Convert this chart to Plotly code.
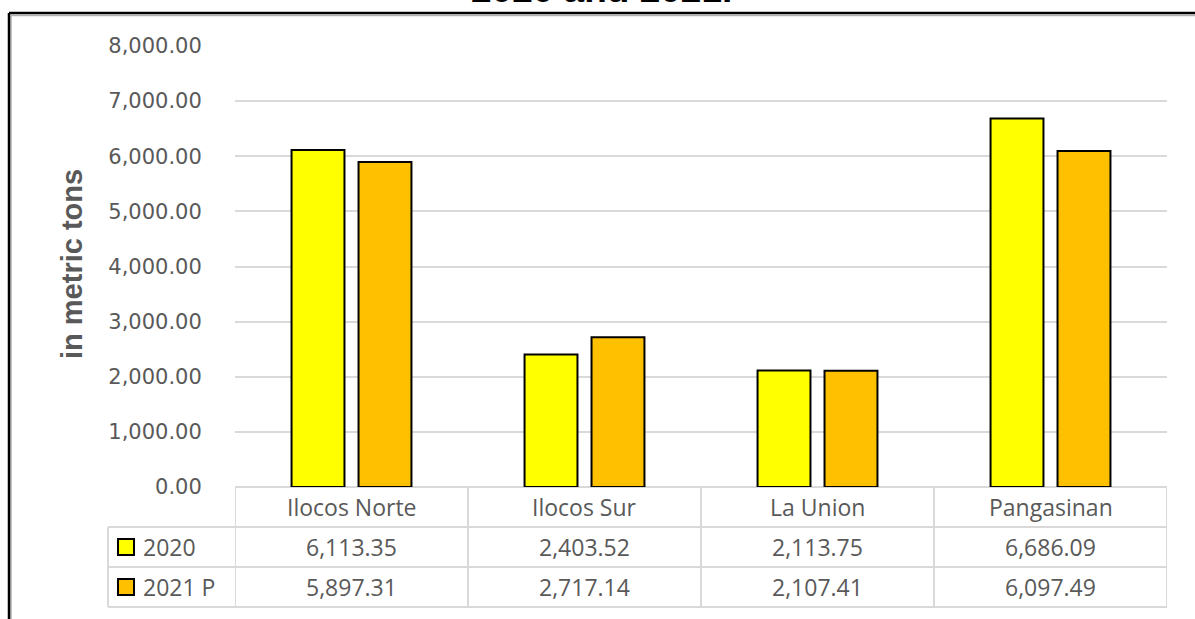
import plotly.graph_objects as go

# ---- data ----
provinces = ["Ilocos Norte", "Ilocos Sur", "La Union", "Pangasinan"]
series_names = ["2020", "2021 P"]
values_2020 = [6113.35, 2403.52, 2113.75, 6686.09]
values_2021 = [5897.31, 2717.14, 2107.41, 6097.49]
y_ticks = [0, 1000, 2000, 3000, 4000, 5000, 6000, 7000, 8000]
title_text = "2020 and 2021."
y_title = "in metric tons"

colors = ["#FFFF00", "#FFC000"]
grey_txt = "#595959"
grid_col = "#D9D9D9"

W, H = 1195, 619
ML, MT = 235, 46
MR = W - 1167
MB = H - 487
PW, PH = W - ML - MR, H - MT - MB


def px(x):
    return (x - ML) / PW


def py(y):
    return (H - MB - y) / PH


fig = go.Figure()
for name, vals, col in zip(series_names, [values_2020, values_2021], colors):
    fig.add_trace(go.Bar(
        x=list(range(len(provinces))), y=vals, name=name,
        marker=dict(color=col, line=dict(color="black", width=2)),
        hoverinfo="y",
    ))

shapes = []
annotations = []

# outer frame (partially cropped chart border)
shapes.append(dict(type="line", xref="paper", yref="paper", x0=px(11), x1=1.2, y0=py(15.5), y1=py(15.5),
                   line=dict(color="#B0B0B0", width=1.5)))
shapes.append(dict(type="line", xref="paper", yref="paper", x0=px(11), x1=px(11), y0=py(15.5), y1=-0.5,
                   line=dict(color="#B0B0B0", width=1.5)))
shapes.append(dict(type="line", xref="paper", yref="paper", x0=px(9), x1=1.2, y0=py(13), y1=py(13),
                   line=dict(color="black", width=2.5)))
shapes.append(dict(type="line", xref="paper", yref="paper", x0=px(9), x1=px(9), y0=py(13), y1=-0.5,
                   line=dict(color="black", width=2.5)))

# data table grid
row_top = [487, 527, 567, 607]
tline = dict(color=grid_col, width=2)
n = len(provinces)
for i in range(n + 1):
    shapes.append(dict(type="line", xref="x", yref="paper", x0=i - 0.5, x1=i - 0.5,
                       y0=py(row_top[0]), y1=py(row_top[3]), line=tline))
shapes.append(dict(type="line", xref="paper", yref="paper", x0=px(108), x1=px(108),
                   y0=py(row_top[1]), y1=py(row_top[3]), line=tline))
for r in row_top[1:]:
    shapes.append(dict(type="line", xref="paper", yref="paper", x0=px(108), x1=1,
                       y0=py(r), y1=py(r), line=tline))

tfont = dict(family="Open Sans, Lato, sans-serif", size=23, color=grey_txt)
for i, p in enumerate(provinces):
    annotations.append(dict(x=i, xref="x", y=py((row_top[0] + row_top[1]) / 2), yref="paper",
                            text=p, showarrow=False, font=tfont, xanchor="center", yanchor="middle"))
for r, (name, vals, col) in enumerate(zip(series_names, [values_2020, values_2021], colors)):
    yc = (row_top[r + 1] + row_top[r + 2]) / 2
    for i, v in enumerate(vals):
        annotations.append(dict(x=i, xref="x", y=py(yc), yref="paper", text=f"{v:,.2f}",
                                showarrow=False, font=tfont, xanchor="center", yanchor="middle"))
    annotations.append(dict(x=px(141), xref="paper", y=py(yc), yref="paper", text=name,
                            showarrow=False, font=tfont, xanchor="left", yanchor="middle"))
    shapes.append(dict(type="rect", xref="paper", yref="paper", x0=px(118), x1=px(134),
                       y0=py(yc - 8), y1=py(yc + 8), fillcolor=col, line=dict(color="black", width=2)))

# y axis title
annotations.append(dict(x=px(72), xref="paper", y=py(264), yref="paper", text=f"<b>{y_title}</b>",
                        textangle=-90, showarrow=False, xanchor="center", yanchor="middle",
                        font=dict(family="Liberation Sans, Arial, sans-serif", size=29, color=grey_txt)))
# cropped title (only its lower part lies inside the picture)
annotations.append(dict(x=px(601), xref="paper", y=py(12), yref="paper", text=f"<b>{title_text}</b>",
                        showarrow=False, xanchor="center", yanchor="bottom",
                        font=dict(family="Liberation Sans, Arial, sans-serif", size=37, color="black")))

fig.update_layout(
    width=W, height=H,
    margin=dict(l=ML, r=MR, t=MT, b=MB, pad=0),
    paper_bgcolor="white", plot_bgcolor="white",
    barmode="group", bargap=0.425, bargroupgap=0.21,
    showlegend=False,
    shapes=shapes, annotations=annotations,
    xaxis=dict(range=[-0.5, n - 0.5], showticklabels=False, showgrid=False, zeroline=False,
               showline=False, ticks=""),
    yaxis=dict(range=[0, 8000], tickvals=y_ticks, tickformat=",.2f",
               showgrid=True, gridcolor=grid_col, gridwidth=2,
               zeroline=True, zerolinecolor=grid_col, zerolinewidth=2,
               showline=False, ticks="outside", ticklen=28, tickcolor="rgba(0,0,0,0)",
               tickfont=dict(family="DejaVu Sans, Verdana, sans-serif", size=21, color=grey_txt)),
)

fig.write_html("out.html", config={"displayModeBar": False},
               post_script="document.body.style.margin='0';document.body.style.overflow='hidden';")
